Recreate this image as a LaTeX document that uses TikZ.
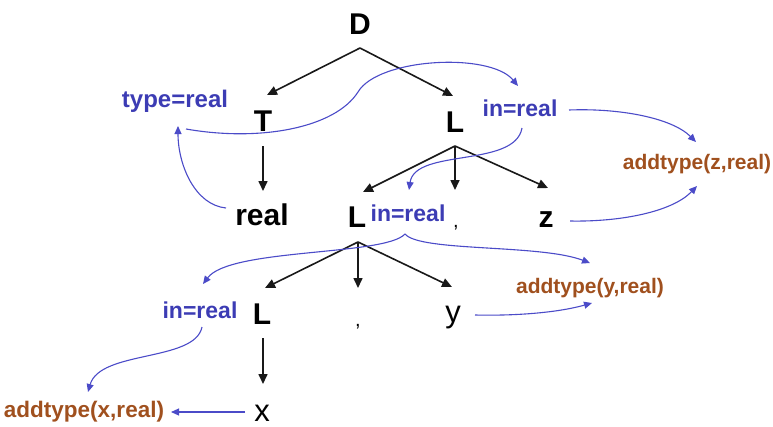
\documentclass[tikz,border=0pt]{standalone}
\usepackage{fontspec}
\setmainfont{Liberation Sans}
\usetikzlibrary{arrows.meta}
\definecolor{lblue}{HTML}{3C3CB4}
\definecolor{cblue}{HTML}{4B4BC8}
\definecolor{brn}{HTML}{A0501E}
\begin{document}
\begin{tikzpicture}[x=1pt,y=-1pt,
  sym/.style={font=\fontsize{30}{30}\selectfont\bfseries, inner sep=0pt},
  symr/.style={font=\fontsize{31}{31}\selectfont, inner sep=0pt},
  commasym/.style={font=\fontsize{20}{20}\selectfont, inner sep=0pt},
  attr/.style={font=\fontsize{23}{23}\selectfont\bfseries, text=lblue, inner sep=0pt},
  act/.style={font=\fontsize{21}{21}\selectfont\bfseries, text=brn, inner sep=0pt},
  tree/.style={draw=black!90, line width=1.6pt, -{Triangle[length=10pt,width=9pt]}},
  flow/.style={draw=cblue, line width=1.1pt, -{Triangle[length=8pt,width=7pt]}}]
\useasboundingbox (0,0) rectangle (773,426);
% nodes
\node[sym] (D) at (360,24) {D};
\node[sym] (T) at (263,121) {T};
\node[attr, font=\fontsize{24}{24}\selectfont\bfseries] (typ) at (175,101) {type=real};
\node[sym] (L1) at (455,122) {L};
\node[attr] (in1) at (520,108) {in=real};
\node[act] (az) at (697,164) {addtype(z,real)};
\node[sym] (real) at (262,215) {real};
\node[sym] (L2) at (357,217) {L};
\node[attr] (in2) at (408,213) {in=real};
\node[commasym] (c1) at (456,228) {,};
\node[sym] (z) at (546,220) {z};
\node[act] (ay) at (590,288) {addtype(y,real)};
\node[attr] (in3) at (200,310) {in=real};
\node[sym] (L3) at (262,314) {L};
\node[commasym] (c2) at (358,327) {,};
\node[symr] (y) at (453,318) {y};
\node[symr] (x) at (262,413) {x};
\node[act, font=\fontsize{22.5}{22.5}\selectfont\bfseries] (ax) at (84,412) {addtype(x,real)};
% tree coordinates
\coordinate (Dap) at (360,48);
\coordinate (tT) at (267,95);
\coordinate (tL1) at (453,96);
\coordinate (Tbot) at (263,146);
\coordinate (treal) at (263,191);
\coordinate (L1ap) at (455,146);
\coordinate (tL2) at (363,192);
\coordinate (tc1) at (455,190);
\coordinate (tz) at (548,188);
\coordinate (L2ap) at (358,242);
\coordinate (tL3) at (265,288);
\coordinate (tc2) at (358,288);
\coordinate (ty) at (452,287);
\coordinate (L3bot) at (263,338);
\coordinate (tx) at (263,384);
\draw[tree] (Dap) -- (tT);
\draw[tree] (Dap) -- (tL1);
\draw[tree] (Tbot) -- (treal);
\draw[tree] (L1ap) -- (tL2);
\draw[tree] (L1ap) -- (tc1);
\draw[tree] (L1ap) -- (tz);
\draw[tree] (L2ap) -- (tL3);
\draw[tree] (L2ap) -- (tc2);
\draw[tree] (L2ap) -- (ty);
\draw[tree] (L3bot) -- (tx);
% flow coordinates
\coordinate (realw) at (226,208);
\coordinate (typb) at (178,126);
\coordinate (typs) at (186,129);
\coordinate (in1t) at (518,86);
\coordinate (in1e) at (569,110);
\coordinate (azt) at (696,142);
\coordinate (ze) at (570,221);
\coordinate (azb) at (697,186);
\coordinate (in1b) at (522,128);
\coordinate (in2t) at (409,190);
\coordinate (in2b) at (405,234);
\coordinate (in3t) at (203,284);
\coordinate (ayt) at (590,263);
\coordinate (ye) at (475,315);
\coordinate (ayb) at (592,303);
\coordinate (in3b) at (202,327);
\coordinate (axt) at (88,392);
\coordinate (xw) at (245,412);
\coordinate (axe) at (171,412);
\draw[flow] (realw) .. controls (195,205) and (178,165) .. (typb);
\draw[flow] (typs) .. controls (260,142) and (335,128) .. (358,92) .. controls (378,58) and (490,52) .. (in1t);
\draw[flow] (in1e) .. controls (620,108) and (672,118) .. (azt);
\draw[flow] (ze) .. controls (620,222) and (672,212) .. (azb);
\draw[flow] (in1b) .. controls (515,168) and (415,148) .. (in2t);
\draw[flow] (in2b) .. controls (385,256) and (230,248) .. (in3t);
\draw[flow] (in2b) .. controls (420,252) and (540,244) .. (ayt);
\draw[flow] (ye) .. controls (520,316) and (560,312) .. (ayb);
\draw[flow] (in3b) .. controls (195,362) and (100,350) .. (axt);
\draw[flow] (xw) -- (axe);
\end{tikzpicture}
\end{document}
